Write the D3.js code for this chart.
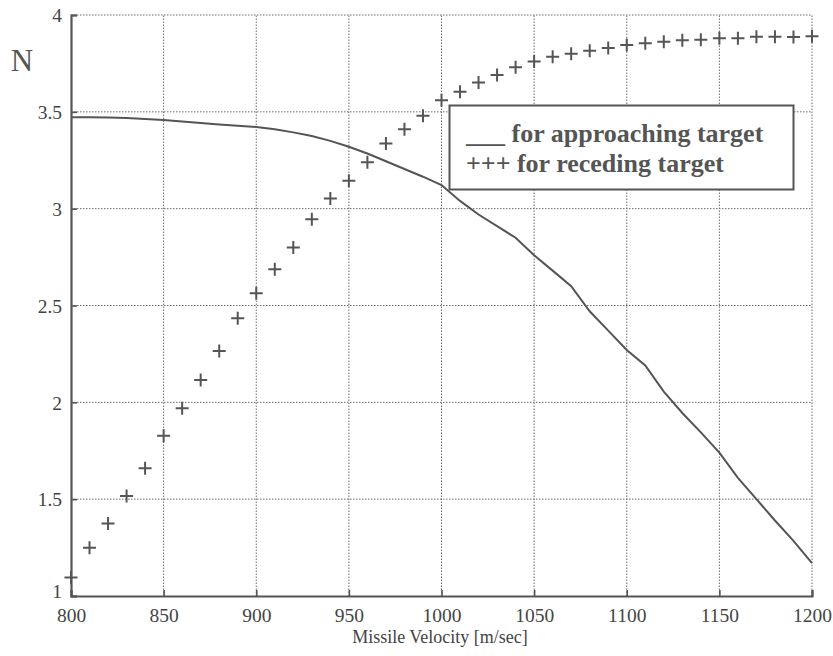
<!DOCTYPE html>
<html><head><meta charset="utf-8">
<script src="https://cdn.jsdelivr.net/npm/d3@7/dist/d3.min.js"></script>
<style>body{margin:0;background:#fff}svg{display:block}</style>
</head><body>
<svg id="c" width="833" height="656"></svg>
<script>
const velocity = [800,810,820,830,840,850,860,870,880,890,900,910,920,930,940,950,960,970,980,990,1000,1010,1020,1030,1040,1050,1060,1070,1080,1090,1100,1110,1120,1130,1140,1150,1160,1170,1180,1190,1200];
const approaching = [3.472,3.472,3.471,3.468,3.463,3.458,3.450,3.442,3.435,3.428,3.422,3.410,3.394,3.375,3.350,3.320,3.285,3.245,3.205,3.165,3.122,3.040,2.970,2.910,2.850,2.760,2.680,2.600,2.470,2.370,2.270,2.190,2.055,1.945,1.845,1.740,1.610,1.500,1.390,1.285,1.170];
const receding = [1.095,1.249,1.375,1.516,1.659,1.828,1.969,2.115,2.265,2.434,2.563,2.687,2.800,2.945,3.053,3.144,3.240,3.337,3.410,3.480,3.560,3.604,3.652,3.690,3.730,3.760,3.785,3.800,3.816,3.830,3.845,3.854,3.862,3.870,3.872,3.880,3.880,3.888,3.888,3.886,3.890];
const xTicks = [800,850,900,950,1000,1050,1100,1150,1200];
const yTicks = [1,1.5,2,2.5,3,3.5,4];
const legendLabels = ["___ for approaching target","+++ for receding target"];
const yLabel = "N";
const xLabel = "Missile Velocity [m/sec]";

const svg = d3.select("#c");
const x = d3.scaleLinear().domain([800,1200]).range([71,812]);
const y = d3.scaleLinear().domain([1,4]).range([596,15]);
const ink = "#555";
const serif = "'Liberation Serif','Times New Roman',serif";

// grid
const grid = svg.append("g").attr("stroke","#6a6a6a").attr("stroke-width",1).attr("stroke-dasharray","1.5,1.5");
grid.selectAll("line.v").data(xTicks.filter(d=>d>800)).join("line")
  .attr("x1",d=>x(d)).attr("x2",d=>x(d)).attr("y1",y(1)).attr("y2",y(4));
grid.selectAll("line.h").data(yTicks.filter(d=>d>1)).join("line")
  .attr("x1",x(800)).attr("x2",x(1200)).attr("y1",d=>y(d)).attr("y2",d=>y(d));

// axes
const xAxis = d3.axisBottom(x).tickValues(xTicks).tickSize(-6).tickPadding(12).tickFormat(d3.format("d"));
const yAxis = d3.axisLeft(y).tickValues(yTicks).tickSize(-6).tickPadding(9).tickFormat(d=>String(d));
const gx = svg.append("g").attr("transform",`translate(0,${y(1)})`).call(xAxis);
const gy = svg.append("g").attr("transform",`translate(${x(800)},0)`).call(yAxis);
[gx,gy].forEach(g=>{
  g.select(".domain").attr("stroke",ink).attr("stroke-width",2.2);
  g.selectAll(".tick line").attr("stroke",ink).attr("stroke-width",1.6);
  g.selectAll(".tick text").attr("fill","#444").attr("font-family",serif).attr("font-size",19.5);
});
gx.selectAll(".tick text").attr("dy","0.71em");
gy.selectAll(".tick text").attr("dy",d=>d===1?"0.1em":"0.35em");

// approaching curve
const line = d3.line().x((d,i)=>x(velocity[i])).y(d=>y(d));
svg.append("path").datum(approaching).attr("d",line)
  .attr("fill","none").attr("stroke",ink).attr("stroke-width",2);

// receding plus markers
const s = 6.5;
const pm = svg.append("g").attr("stroke",ink).attr("stroke-width",2);
pm.selectAll("path").data(receding).join("path")
  .attr("d",(d,i)=>{const cx=x(velocity[i]), cy=y(d); return `M${cx-s},${cy}H${cx+s}M${cx},${cy-s}V${cy+s}`;});

// legend
const lg = svg.append("g");
lg.append("rect").attr("x",449.5).attr("y",105.5).attr("width",344).attr("height",84)
  .attr("fill","#fff").attr("stroke",ink).attr("stroke-width",2);
lg.selectAll("text").data(legendLabels).join("text")
  .attr("x",466).attr("y",(d,i)=>142+i*30)
  .attr("font-family",serif).attr("font-weight","bold").attr("font-size",26).attr("fill","#555")
  .text(d=>d);

// labels
svg.append("text").attr("x",22).attr("y",71).attr("text-anchor","middle")
  .attr("font-family",serif).attr("font-size",31).attr("fill","#555").text(yLabel);
svg.append("text").attr("x",440).attr("y",643).attr("text-anchor","middle")
  .attr("font-family",serif).attr("font-size",18).attr("fill","#444").text(xLabel);
</script>
</body></html>
